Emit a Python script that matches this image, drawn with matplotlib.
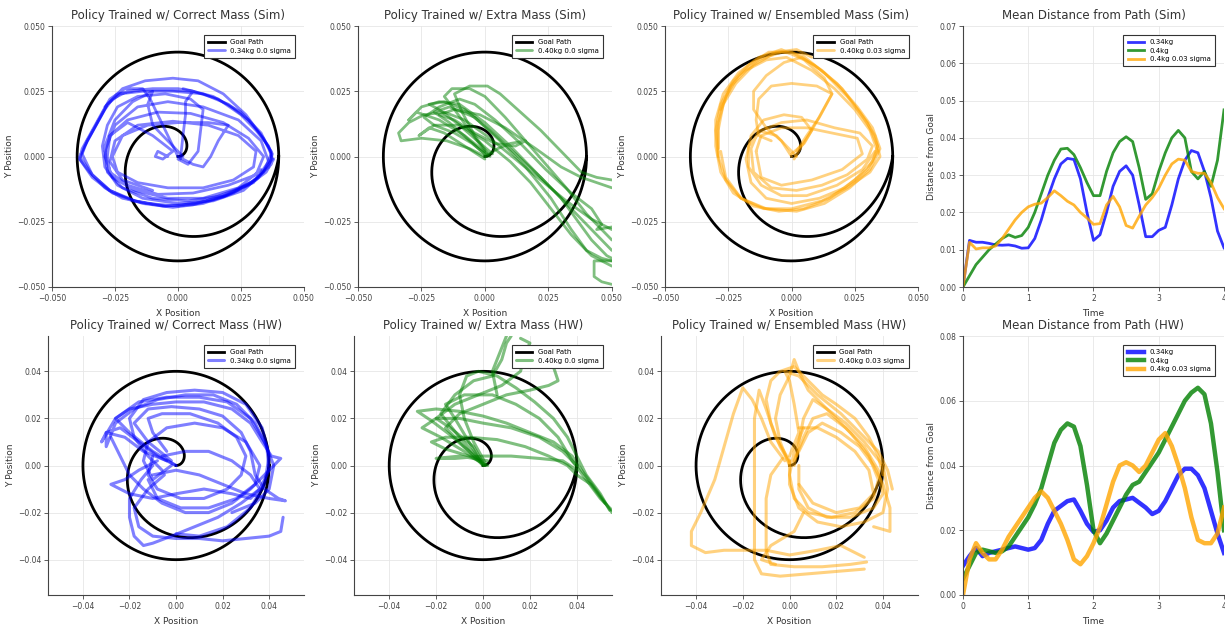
import numpy as np
import matplotlib
matplotlib.use("Agg")
import matplotlib.pyplot as plt

BLUE = "#0000ff"
GREEN = "#008000"
ORANGE = "#ffa500"

# goal path: archimedean spiral from the centre, then the outer circle
GOAL_RADIUS = 0.04

# ---- mean distance from path, sampled every 0.1 s ----
TIME = np.round(np.arange(41) * 0.1, 1)

SIM_034 = [0.000, 0.0125, 0.0120, 0.0120, 0.0117, 0.0113, 0.0112, 0.0113, 0.0110, 0.0104,
           0.0105, 0.0130, 0.0180, 0.0240, 0.0290, 0.0330, 0.0345, 0.0342, 0.0290, 0.0200,
           0.0125, 0.0140, 0.0200, 0.0270, 0.0310, 0.0325, 0.0300, 0.0220, 0.0135, 0.0135,
           0.0152, 0.0160, 0.0220, 0.0290, 0.0340, 0.0366, 0.0360, 0.0310, 0.0240, 0.0150,
           0.0105]
SIM_040 = [0.000, 0.0030, 0.0060, 0.0080, 0.0100, 0.0115, 0.0130, 0.0140, 0.0133, 0.0138,
           0.0160, 0.0200, 0.0250, 0.0300, 0.0340, 0.0370, 0.0372, 0.0355, 0.0320, 0.0280,
           0.0245, 0.0245, 0.0310, 0.0360, 0.0390, 0.0403, 0.0390, 0.0320, 0.0235, 0.0250,
           0.0310, 0.0360, 0.0400, 0.0420, 0.0400, 0.0310, 0.0290, 0.0310, 0.0270, 0.0340,
           0.0475]
SIM_040_ENS = [0.000, 0.0120, 0.0102, 0.0105, 0.0105, 0.0110, 0.0130, 0.0155, 0.0180, 0.0200,
               0.0215, 0.0222, 0.0225, 0.0240, 0.0258, 0.0245, 0.0230, 0.0220, 0.0200, 0.0185,
               0.0168, 0.0170, 0.0220, 0.0243, 0.0215, 0.0165, 0.0158, 0.0190, 0.0220, 0.0240,
               0.0265, 0.0300, 0.0330, 0.0343, 0.0340, 0.0310, 0.0305, 0.0305, 0.0280, 0.0240,
               0.0210]

HW_034 = [0.009, 0.012, 0.0145, 0.012, 0.013, 0.0135, 0.014, 0.0145, 0.015, 0.0145,
          0.014, 0.0145, 0.017, 0.022, 0.026, 0.0275, 0.029, 0.0295, 0.026, 0.022,
          0.0195, 0.020, 0.023, 0.027, 0.029, 0.0295, 0.030, 0.0285, 0.027, 0.025,
          0.026, 0.029, 0.033, 0.037, 0.039, 0.039, 0.037, 0.033, 0.026, 0.019,
          0.013]
HW_040 = [0.005, 0.009, 0.013, 0.014, 0.0135, 0.013, 0.0135, 0.015, 0.018, 0.021,
          0.024, 0.028, 0.033, 0.040, 0.047, 0.051, 0.053, 0.052, 0.046, 0.034,
          0.020, 0.016, 0.019, 0.023, 0.027, 0.031, 0.034, 0.035, 0.038, 0.041,
          0.044, 0.048, 0.052, 0.056, 0.060, 0.0625, 0.064, 0.062, 0.053, 0.038,
          0.020]
HW_040_ENS = [0.000, 0.011, 0.016, 0.013, 0.011, 0.011, 0.014, 0.018, 0.021, 0.024,
              0.027, 0.030, 0.032, 0.030, 0.026, 0.022, 0.017, 0.011, 0.0095, 0.012,
              0.016, 0.021, 0.028, 0.035, 0.040, 0.041, 0.040, 0.038, 0.040, 0.044,
              0.048, 0.050, 0.046, 0.040, 0.033, 0.024, 0.017, 0.016, 0.016, 0.019,
              0.027]

# ---- trajectories (x, y) in metres, one list per episode ----
SIM_CORRECT = [
    [(0.000, 0.000), (-0.003, 0.006), (-0.007, 0.014), (-0.011, 0.022), (-0.014, 0.026),
     (-0.021, 0.026), (-0.027, 0.022), (-0.030, 0.017), (-0.034, 0.010), (-0.038, 0.003),
     (-0.039, -0.001), (-0.035, -0.006), (-0.029, -0.012), (-0.022, -0.016), (-0.012, -0.018),
     (0.000, -0.019), (0.011, -0.017), (0.022, -0.013), (0.031, -0.009), (0.037, -0.003),
     (0.037, 0.002), (0.033, 0.008), (0.027, 0.016), (0.018, 0.024), (0.008, 0.029),
     (-0.002, 0.030), (-0.013, 0.029), (-0.022, 0.026), (-0.028, 0.020), (-0.032, 0.013),
     (-0.036, 0.006), (-0.039, 0.000), (-0.034, -0.007), (-0.027, -0.013), (-0.018, -0.017),
     (-0.006, -0.019), (0.006, -0.0185), (0.018, -0.0155), (0.028, -0.011), (0.035, -0.006),
     (0.038, -0.001)],
    [(0.001, -0.001), (0.002, 0.008), (0.003, 0.016), (0.003, 0.021), (0.006, 0.025),
     (0.000, 0.026), (-0.010, 0.026), (-0.020, 0.025), (-0.026, 0.022), (-0.029, 0.018),
     (-0.033, 0.011), (-0.037, 0.004), (-0.039, -0.001), (-0.034, -0.008), (-0.026, -0.014),
     (-0.014, -0.018), (-0.002, -0.0195), (0.010, -0.018), (0.022, -0.014), (0.032, -0.008),
     (0.0375, -0.001), (0.036, 0.004), (0.031, 0.010), (0.025, 0.016), (0.016, 0.022),
     (0.006, 0.025), (-0.004, 0.0255), (-0.015, 0.0255), (-0.024, 0.024), (-0.029, 0.019)],
    [(-0.004, 0.000), (-0.008, 0.002), (-0.009, 0.000), (-0.006, -0.001), (-0.002, 0.002),
     (-0.010, 0.008), (-0.020, 0.013), (-0.027, 0.008), (-0.028, 0.000), (-0.027, -0.006),
     (-0.020, -0.011), (-0.008, -0.0145), (0.006, -0.014), (0.020, -0.011), (0.031, -0.007),
     (0.034, 0.000), (0.028, 0.007), (0.018, 0.013), (0.005, 0.0165), (-0.008, 0.017),
     (-0.020, 0.014), (-0.027, 0.008), (-0.029, 0.000), (-0.026, -0.008), (-0.017, -0.013),
     (-0.004, -0.016), (0.010, -0.016), (0.024, -0.012), (0.033, -0.005)],
    [(0.000, 0.000), (0.006, -0.003), (0.010, -0.004), (0.013, 0.000), (0.016, 0.006),
     (0.020, 0.012), (0.012, 0.013), (0.000, 0.013), (-0.012, 0.012), (-0.022, 0.008),
     (-0.026, 0.000), (-0.024, -0.006), (-0.016, -0.010), (-0.004, -0.012), (0.010, -0.012),
     (0.022, -0.009), (0.030, -0.004), (0.031, 0.002), (0.024, 0.008), (0.012, 0.012),
     (-0.002, 0.0135), (-0.016, 0.012), (-0.025, 0.006), (-0.027, -0.002), (-0.022, -0.009),
     (-0.010, -0.013)],
    [(0.002, 0.000), (-0.004, 0.006), (-0.010, 0.012), (-0.012, 0.020), (-0.010, 0.025),
     (-0.018, 0.021), (-0.025, 0.014), (-0.029, 0.004), (-0.028, -0.006), (-0.022, -0.012),
     (-0.010, -0.016), (0.004, -0.017), (0.018, -0.015), (0.030, -0.010), (0.036, -0.002),
     (0.033, 0.006), (0.024, 0.014), (0.010, 0.019), (-0.004, 0.021), (-0.016, 0.019),
     (-0.025, 0.012), (-0.029, 0.002)],
    [(0.000, -0.001), (0.004, -0.003), (0.008, 0.002), (0.009, 0.010), (0.010, 0.018),
     (0.005, 0.022), (-0.005, 0.024), (-0.016, 0.023), (-0.024, 0.019), (-0.028, 0.012),
     (-0.030, 0.004), (-0.029, -0.004), (-0.024, -0.011), (-0.014, -0.016), (0.000, -0.018),
     (0.014, -0.017), (0.026, -0.013), (0.034, -0.006), (0.037, 0.001), (0.033, 0.009),
     (0.025, 0.017), (0.014, 0.023), (0.002, 0.026)],
    [(-0.038, 0.001), (-0.034, -0.007), (-0.027, -0.013), (-0.017, -0.017), (-0.005, -0.019),
     (0.007, -0.018), (0.019, -0.015), (0.029, -0.010), (0.036, -0.004), (0.0375, 0.001),
     (0.034, 0.007), (0.028, 0.014), (0.020, 0.020), (0.010, 0.024), (-0.002, 0.025),
     (-0.014, 0.025), (-0.023, 0.024), (-0.028, 0.020), (-0.032, 0.013), (-0.036, 0.006),
     (-0.038, 0.001)],
]

SIM_EXTRA = [
    [(0.000, 0.000), (-0.006, 0.003), (-0.015, 0.006), (-0.025, 0.007), (-0.033, 0.006),
     (-0.034, 0.009), (-0.030, 0.013), (-0.024, 0.016), (-0.016, 0.017), (-0.008, 0.014),
     (0.002, 0.007), (0.012, -0.001), (0.022, -0.009), (0.032, -0.017), (0.042, -0.024),
     (0.050, -0.028)],
    [(0.001, 0.001), (-0.008, 0.008), (-0.018, 0.014), (-0.027, 0.017), (-0.030, 0.014),
     (-0.025, 0.019), (-0.018, 0.021), (-0.010, 0.020), (0.000, 0.013), (0.010, 0.004),
     (0.020, -0.006), (0.030, -0.016), (0.040, -0.026), (0.050, -0.036)],
    [(0.000, 0.002), (-0.006, 0.010), (-0.012, 0.018), (-0.016, 0.023), (-0.013, 0.026),
     (-0.006, 0.026), (0.000, 0.023), (0.008, 0.015), (0.016, 0.006), (0.024, -0.003),
     (0.032, -0.012), (0.040, -0.022), (0.048, -0.030), (0.050, -0.032)],
    [(0.002, 0.000), (-0.004, 0.008), (-0.009, 0.017), (-0.012, 0.024), (-0.006, 0.027),
     (0.001, 0.027), (0.006, 0.024), (0.014, 0.017), (0.022, 0.010), (0.030, 0.002),
     (0.038, -0.006), (0.044, -0.008), (0.050, -0.009)],
    [(0.003, 0.001), (-0.003, 0.006), (-0.010, 0.012), (-0.018, 0.018), (-0.022, 0.020),
     (-0.016, 0.021), (-0.008, 0.018), (0.002, 0.010), (0.012, 0.001), (0.022, -0.008),
     (0.030, -0.016), (0.036, -0.024), (0.042, -0.032), (0.048, -0.038), (0.050, -0.039)],
    [(0.000, -0.001), (-0.008, 0.004), (-0.016, 0.009), (-0.022, 0.011), (-0.026, 0.008),
     (-0.020, 0.012), (-0.010, 0.012), (0.000, 0.006), (0.010, -0.002), (0.018, -0.010),
     (0.026, -0.020), (0.034, -0.030), (0.042, -0.038), (0.048, -0.041), (0.050, -0.042)],
    [(0.001, 0.000), (-0.006, 0.006), (-0.014, 0.013), (-0.020, 0.017), (-0.014, 0.019),
     (-0.004, 0.015), (0.006, 0.006), (0.016, -0.004), (0.026, -0.016), (0.034, -0.028),
     (0.040, -0.036), (0.046, -0.039), (0.050, -0.040)],
    [(0.050, -0.040), (0.043, -0.040), (0.043, -0.046), (0.046, -0.048), (0.050, -0.049)],
    [(0.000, 0.000), (0.005, 0.003), (0.010, 0.005), (0.016, 0.006), (0.012, 0.004),
     (0.004, 0.005), (-0.004, 0.009), (-0.012, 0.014), (-0.018, 0.016), (-0.012, 0.018),
     (-0.002, 0.016), (0.008, 0.011), (0.020, 0.003), (0.030, -0.004), (0.038, -0.008),
     (0.050, -0.012)],
    [(0.000, 0.001), (-0.005, 0.005), (-0.012, 0.009), (-0.020, 0.012), (-0.024, 0.015),
     (-0.018, 0.019), (-0.010, 0.022), (-0.004, 0.020), (0.004, 0.014), (0.014, 0.005),
     (0.024, -0.005), (0.034, -0.014), (0.042, -0.020), (0.046, -0.026), (0.044, -0.028),
     (0.050, -0.027)],
]

SIM_ENSEMBLE = [
    [(0.001, -0.001), (0.004, 0.004), (0.008, 0.010), (0.012, 0.017), (0.016, 0.024),
     (0.013, 0.030), (0.005, 0.037), (-0.004, 0.041), (-0.013, 0.038), (-0.021, 0.032),
     (-0.027, 0.024), (-0.030, 0.014), (-0.030, 0.004), (-0.028, -0.006), (-0.023, -0.014),
     (-0.015, -0.019), (-0.005, -0.021), (0.005, -0.020), (0.015, -0.016), (0.025, -0.009),
     (0.032, -0.002), (0.034, 0.004), (0.030, 0.013), (0.022, 0.023), (0.013, 0.032),
     (0.004, 0.039), (-0.004, 0.040), (-0.013, 0.037), (-0.021, 0.031), (-0.026, 0.023),
     (-0.029, 0.013), (-0.029, 0.003)],
    [(0.000, 0.000), (-0.004, 0.006), (-0.010, 0.011), (-0.015, 0.018), (-0.015, 0.025),
     (-0.010, 0.031), (-0.003, 0.036), (0.004, 0.038), (0.012, 0.033), (0.020, 0.026),
     (0.027, 0.017), (0.033, 0.008), (0.035, 0.000), (0.031, -0.006), (0.022, -0.012),
     (0.012, -0.017), (0.000, -0.020), (-0.011, -0.020), (-0.020, -0.016), (-0.026, -0.009),
     (-0.029, 0.000), (-0.029, 0.010), (-0.027, 0.020), (-0.022, 0.028), (-0.015, 0.035),
     (-0.006, 0.040), (0.002, 0.041), (0.008, 0.038)],
    [(0.002, 0.000), (-0.006, 0.008), (-0.013, 0.010), (-0.016, 0.003), (-0.015, -0.006),
     (-0.008, -0.012), (0.002, -0.013), (0.012, -0.011), (0.022, -0.007), (0.030, -0.001),
     (0.032, 0.004), (0.027, 0.009), (0.017, 0.011), (0.006, 0.014), (-0.004, 0.013),
     (-0.012, 0.010), (-0.017, 0.004), (-0.017, -0.004), (-0.012, -0.011), (-0.004, -0.015),
     (0.006, -0.015), (0.018, -0.011), (0.028, -0.005), (0.033, 0.002)],
    [(0.000, 0.001), (0.005, 0.005), (0.008, 0.010), (0.004, 0.015), (-0.003, 0.016),
     (-0.011, 0.014), (-0.016, 0.008), (-0.018, -0.001), (-0.016, -0.010), (-0.010, -0.016),
     (0.000, -0.018), (0.011, -0.016), (0.021, -0.012), (0.030, -0.005), (0.034, 0.002),
     (0.031, 0.010), (0.025, 0.018), (0.017, 0.026), (0.008, 0.033), (-0.002, 0.038),
     (-0.010, 0.037), (-0.018, 0.033), (-0.024, 0.027), (-0.028, 0.018)],
    [(0.002, 0.002), (0.006, 0.008), (0.011, 0.015), (0.016, 0.024), (0.010, 0.027),
     (0.000, 0.028), (-0.008, 0.027), (-0.013, 0.022), (-0.014, 0.014), (-0.013, 0.008),
     (-0.008, 0.006)],
    [(-0.028, 0.002), (-0.026, -0.008), (-0.020, -0.016), (-0.010, -0.020), (0.002, -0.021),
     (0.013, -0.018), (0.023, -0.012), (0.031, -0.005), (0.035, 0.003), (0.032, 0.011),
     (0.026, 0.019), (0.018, 0.028), (0.009, 0.035), (0.000, 0.040), (-0.009, 0.040),
     (-0.017, 0.035), (-0.023, 0.029), (-0.028, 0.020), (-0.030, 0.010), (-0.029, 0.000)],
    [(-0.014, 0.002), (-0.012, -0.008), (-0.004, -0.011), (0.008, -0.009), (0.020, -0.005),
     (0.028, 0.001), (0.026, 0.007), (0.016, 0.009), (0.006, 0.011), (-0.004, 0.011),
     (-0.012, 0.008), (-0.014, 0.002)],
]

HW_CORRECT = [
    [(0.000, 0.000), (-0.008, 0.004), (-0.016, 0.010), (-0.024, 0.016), (-0.030, 0.014),
     (-0.030, 0.008), (-0.026, 0.018), (-0.018, 0.024), (-0.008, 0.028), (0.004, 0.030),
     (0.016, 0.030), (0.026, 0.026), (0.034, 0.018), (0.039, 0.008), (0.040, -0.002),
     (0.036, -0.010), (0.028, -0.016), (0.018, -0.022), (0.008, -0.026), (-0.002, -0.030),
     (-0.010, -0.033), (-0.014, -0.034), (-0.018, -0.030), (-0.020, -0.022), (-0.020, -0.014),
     (-0.015, -0.006), (-0.010, 0.000)],
    [(0.000, 0.000), (-0.010, 0.006), (-0.020, 0.014), (-0.026, 0.020), (-0.020, 0.024),
     (-0.010, 0.026), (0.000, 0.027), (0.012, 0.027), (0.024, 0.024), (0.032, 0.018),
     (0.037, 0.010), (0.041, 0.004), (0.045, 0.003), (0.038, -0.004), (0.032, -0.010),
     (0.024, -0.016), (0.014, -0.020), (0.004, -0.020), (-0.006, -0.016), (-0.014, -0.010),
     (-0.020, -0.004), (-0.024, 0.004), (-0.028, 0.012)],
    [(-0.002, 0.002), (-0.012, 0.010), (-0.018, 0.018), (-0.012, 0.024), (-0.002, 0.025),
     (0.010, 0.024), (0.020, 0.021), (0.028, 0.014), (0.032, 0.006), (0.034, -0.004),
     (0.038, -0.010), (0.044, -0.014), (0.047, -0.015), (0.040, -0.014), (0.030, -0.012),
     (0.020, -0.008), (0.010, -0.004), (0.000, -0.002), (-0.010, -0.004)],
    [(-0.005, -0.004), (-0.012, -0.010), (-0.018, -0.018), (-0.016, -0.026), (-0.010, -0.030),
     (0.000, -0.031), (0.010, -0.031), (0.020, -0.032), (0.030, -0.031), (0.040, -0.030),
     (0.045, -0.028), (0.046, -0.022)],
    [(-0.008, 0.002), (-0.016, -0.002), (-0.022, -0.006), (-0.028, -0.008), (-0.020, -0.012),
     (-0.010, -0.014), (0.000, -0.012), (0.012, -0.010), (0.024, -0.012), (0.032, -0.014),
     (0.036, -0.010), (0.032, -0.004), (0.024, 0.002), (0.014, 0.006), (0.004, 0.006),
     (-0.006, 0.004)],
    [(-0.004, 0.006), (-0.010, 0.014), (-0.012, 0.020), (-0.006, 0.022), (0.006, 0.022),
     (0.018, 0.018), (0.026, 0.012), (0.030, 0.004), (0.028, -0.004), (0.022, -0.010),
     (0.012, -0.014), (0.002, -0.014), (-0.008, -0.010), (-0.012, -0.004), (-0.010, 0.004)],
    [(-0.006, -0.002), (-0.012, 0.004), (-0.018, 0.012), (-0.020, 0.020), (-0.014, 0.028),
     (-0.004, 0.031), (0.008, 0.032), (0.020, 0.031), (0.030, 0.026), (0.037, 0.016),
     (0.040, 0.004), (0.038, -0.008), (0.032, -0.018), (0.022, -0.026), (0.010, -0.030),
     (0.000, -0.029)],
    [(-0.002, 0.000), (-0.010, -0.006), (-0.014, 0.002), (-0.012, 0.010), (-0.004, 0.016),
     (0.008, 0.018), (0.020, 0.016), (0.030, 0.010), (0.036, 0.000), (0.034, -0.008),
     (0.026, -0.014), (0.014, -0.018), (0.002, -0.018), (-0.008, -0.014), (-0.012, -0.006)],
    [(-0.004, 0.002), (-0.014, 0.006), (-0.022, 0.012), (-0.030, 0.014), (-0.032, 0.010),
     (-0.026, 0.020), (-0.016, 0.027), (-0.004, 0.029), (0.010, 0.029), (0.022, 0.027),
     (0.032, 0.020), (0.038, 0.010), (0.042, 0.000), (0.040, -0.010), (0.034, -0.016),
     (0.024, -0.020)],
]

HW_EXTRA = [
    [(0.000, 0.000), (-0.006, 0.006), (-0.014, 0.013), (-0.022, 0.019), (-0.028, 0.023),
     (-0.020, 0.024), (-0.010, 0.023), (0.000, 0.021), (0.010, 0.018), (0.020, 0.014),
     (0.030, 0.010), (0.038, 0.004), (0.042, -0.002), (0.048, -0.010), (0.055, -0.020)],
    [(0.001, 0.001), (-0.004, 0.010), (-0.008, 0.020), (-0.010, 0.030), (-0.007, 0.038),
     (-0.002, 0.040), (0.006, 0.038), (0.014, 0.033), (0.022, 0.027), (0.030, 0.020),
     (0.036, 0.012), (0.040, 0.004), (0.044, -0.004), (0.050, -0.012), (0.054, -0.019)],
    [(0.002, 0.000), (-0.006, 0.004), (-0.016, 0.007), (-0.022, 0.010), (-0.016, 0.012),
     (-0.006, 0.012), (0.006, 0.011), (0.018, 0.008), (0.028, 0.004), (0.036, 0.000),
     (0.040, -0.004), (0.046, -0.008), (0.052, -0.016)],
    [(-0.001, 0.002), (-0.010, 0.012), (-0.018, 0.022), (-0.012, 0.030), (-0.004, 0.036),
     (0.004, 0.038), (0.008, 0.045), (0.010, 0.052), (0.012, 0.055)],
    [(0.000, 0.001), (-0.004, 0.008), (-0.014, 0.016), (-0.020, 0.020), (-0.012, 0.026),
     (-0.002, 0.030), (0.008, 0.034), (0.016, 0.040), (0.018, 0.048), (0.020, 0.052),
     (0.016, 0.054)],
    [(0.001, 0.000), (-0.008, 0.008), (-0.016, 0.016), (-0.010, 0.022), (0.000, 0.026),
     (0.010, 0.030), (0.020, 0.032), (0.028, 0.034), (0.032, 0.036), (0.030, 0.042),
     (0.034, 0.046)],
    [(0.002, 0.002), (-0.010, 0.004), (-0.020, 0.003), (-0.012, 0.003), (0.000, 0.004),
     (0.012, 0.004), (0.024, 0.003), (0.034, 0.002), (0.040, -0.002)],
    [(0.000, 0.000), (-0.006, 0.010), (-0.012, 0.020), (-0.016, 0.026), (-0.008, 0.030),
     (0.004, 0.030), (0.014, 0.026), (0.024, 0.020), (0.032, 0.012), (0.038, 0.002),
     (0.044, -0.006), (0.050, -0.014), (0.055, -0.019)],
    [(0.001, 0.000), (-0.008, 0.006), (-0.018, 0.012), (-0.026, 0.016), (-0.020, 0.020),
     (-0.010, 0.020), (0.000, 0.018), (0.012, 0.016), (0.024, 0.012), (0.034, 0.006),
     (0.040, 0.000)],
    [(0.006, 0.030), (0.004, 0.040), (0.008, 0.050), (0.010, 0.055)],
]

HW_ENSEMBLE = [
    [(0.000, 0.000), (-0.004, 0.010), (-0.006, 0.020), (-0.004, 0.030), (0.000, 0.038),
     (0.002, 0.045), (0.004, 0.040), (0.008, 0.032), (0.016, 0.024), (0.026, 0.014),
     (0.034, 0.004), (0.038, -0.006), (0.036, -0.014), (0.028, -0.020), (0.018, -0.022),
     (0.008, -0.020), (0.002, -0.014), (0.000, -0.004), (0.002, 0.006), (0.006, 0.016)],
    [(-0.002, 0.002), (-0.008, 0.010), (-0.012, 0.020), (-0.016, 0.028), (-0.020, 0.033),
     (-0.024, 0.022), (-0.028, 0.008), (-0.032, -0.006), (-0.038, -0.020), (-0.042, -0.028),
     (-0.042, -0.034), (-0.036, -0.037), (-0.028, -0.036), (-0.020, -0.036), (-0.010, -0.036),
     (0.000, -0.038), (0.012, -0.036), (0.022, -0.034), (0.030, -0.038), (0.032, -0.039)],
    [(0.000, 0.002), (-0.006, 0.012), (-0.010, 0.024), (-0.013, 0.032), (-0.015, 0.020),
     (-0.015, 0.004), (-0.015, -0.012), (-0.015, -0.028), (-0.015, -0.040), (-0.012, -0.046),
     (-0.004, -0.047), (0.008, -0.046), (0.020, -0.045), (0.032, -0.044)],
    [(0.002, 0.000), (0.004, 0.010), (0.006, 0.020), (0.010, 0.028), (0.016, 0.024),
     (0.024, 0.018), (0.032, 0.010), (0.040, 0.000), (0.042, -0.010), (0.040, -0.020),
     (0.032, -0.024), (0.022, -0.026), (0.012, -0.024), (0.004, -0.018), (0.000, -0.008),
     (0.000, 0.002)],
    [(0.003, 0.004), (0.008, 0.014), (0.014, 0.018), (0.022, 0.014), (0.030, 0.008),
     (0.036, 0.000), (0.040, -0.008), (0.043, -0.018), (0.043, -0.028), (0.036, -0.026)],
    [(0.000, 0.001), (-0.004, 0.008), (-0.008, 0.018), (-0.010, 0.028), (-0.008, 0.036),
     (-0.004, 0.040), (0.002, 0.042), (0.008, 0.036), (0.014, 0.030), (0.020, 0.026),
     (0.028, 0.020), (0.034, 0.012), (0.038, 0.004), (0.040, -0.004)],
    [(-0.003, 0.003), (-0.008, -0.004), (-0.010, -0.014), (-0.010, -0.026), (-0.010, -0.036),
     (-0.008, -0.042), (0.002, -0.043), (0.014, -0.043), (0.026, -0.042), (0.033, -0.041)],
    [(0.004, 0.016), (0.012, 0.016), (0.020, 0.012), (0.028, 0.006), (0.034, -0.002),
     (0.036, -0.012), (0.030, -0.018), (0.020, -0.020), (0.010, -0.016), (0.004, -0.008)],
    [(0.006, -0.020), (0.002, -0.028), (-0.008, -0.034), (-0.012, -0.040), (-0.006, -0.042)],
    [(0.002, 0.002), (0.006, 0.012), (0.010, 0.020), (0.016, 0.022), (0.024, 0.016),
     (0.032, 0.008), (0.038, -0.002), (0.040, -0.012), (0.036, -0.018), (0.026, -0.022),
     (0.016, -0.022), (0.008, -0.018), (0.004, -0.010), (0.004, 0.000)],
    [(0.000, 0.004), (0.004, 0.014), (0.002, 0.026), (0.000, 0.036), (-0.002, 0.040),
     (0.004, 0.038), (0.012, 0.030), (0.022, 0.022), (0.030, 0.014), (0.038, 0.006),
     (0.042, -0.002), (0.044, -0.010)],
]

plt.rcParams.update({"font.family": "DejaVu Sans", "axes.unicode_minus": True})

fig = plt.figure(figsize=(12.25, 6.25), dpi=100)


def style_axes(ax):
    """left/bottom frame only, light grid"""
    for side in ("top", "right"):
        ax.spines[side].set_visible(False)
    for side in ("left", "bottom"):
        ax.spines[side].set_color("#444444")
        ax.spines[side].set_linewidth(0.8)
    ax.grid(True, color="#e6e6e6", linewidth=0.6)
    ax.set_axisbelow(True)
    ax.tick_params(labelsize=5.5, colors="#444444", length=3, width=0.6, pad=2)


def fmt(values, digits):
    return [f"{v:.{digits}f}".replace("-", "\u2212") for v in values]


def draw_goal(ax):
    theta = np.linspace(0, 2 * np.pi, 300)
    r = GOAL_RADIUS * theta / (2 * np.pi)
    xs = np.concatenate([r * np.cos(theta), GOAL_RADIUS * np.cos(theta)])
    ys = np.concatenate([r * np.sin(theta), GOAL_RADIUS * np.sin(theta)])
    ax.plot(xs, ys, color="black", lw=2.0, label="Goal Path")


def draw_trajectories(ax, episodes, color, label, lw):
    for k, ep in enumerate(episodes):
        xs, ys = zip(*ep)
        ax.plot(xs, ys, color=color, alpha=0.5, lw=lw,
                solid_joinstyle="round", solid_capstyle="round",
                label=label if k == 0 else None)


def add_legend(ax):
    leg = ax.legend(loc="upper right", bbox_to_anchor=(0.965, 0.965), borderaxespad=0,
                    fontsize=5, handlelength=2.4, fancybox=False, framealpha=1,
                    edgecolor="#333333", borderpad=0.6, labelspacing=0.35)
    leg.get_frame().set_linewidth(0.8)


def label_axes(ax, title, xlabel, ylabel):
    ax.set_title(title, fontsize=8.5, color="#333333", pad=5)
    ax.set_xlabel(xlabel, fontsize=6.5, color="#333333", labelpad=4)
    ax.set_ylabel(ylabel, fontsize=6.5, color="#333333", labelpad=2)


TOP_Y, TOP_H = 0.5408, 0.4176
BOT_Y, BOT_H = 0.048, 0.4144

traj_panels = [
    ([0.0424, TOP_Y, 0.2057, TOP_H], SIM_CORRECT, BLUE, "0.34kg 0.0 sigma",
     "Policy Trained w/ Correct Mass (Sim)", True),
    ([0.2922, TOP_Y, 0.2073, TOP_H], SIM_EXTRA, GREEN, "0.40kg 0.0 sigma",
     "Policy Trained w/ Extra Mass (Sim)", True),
    ([0.5429, TOP_Y, 0.2065, TOP_H], SIM_ENSEMBLE, ORANGE, "0.40kg 0.03 sigma",
     "Policy Trained w/ Ensembled Mass (Sim)", True),
    ([0.0392, BOT_Y, 0.2090, BOT_H], HW_CORRECT, BLUE, "0.34kg 0.0 sigma",
     "Policy Trained w/ Correct Mass (HW)", False),
    ([0.2890, BOT_Y, 0.2106, BOT_H], HW_EXTRA, GREEN, "0.40kg 0.0 sigma",
     "Policy Trained w/ Extra Mass (HW)", False),
    ([0.5396, BOT_Y, 0.2098, BOT_H], HW_ENSEMBLE, ORANGE, "0.40kg 0.03 sigma",
     "Policy Trained w/ Ensembled Mass (HW)", False),
]

for rect, episodes, color, label, title, is_sim in traj_panels:
    ax = fig.add_axes(rect)
    style_axes(ax)
    draw_goal(ax)
    draw_trajectories(ax, episodes, color, label, 2.0 if is_sim else 2.2)
    if is_sim:
        ticks = [-0.05, -0.025, 0.0, 0.025, 0.05]
        ax.set_xlim(-0.05, 0.05)
        ax.set_ylim(-0.05, 0.05)
        ax.set_xticks(ticks, fmt(ticks, 3))
        ax.set_yticks(ticks, fmt(ticks, 3))
    else:
        ticks = [-0.04, -0.02, 0.0, 0.02, 0.04]
        ax.set_xlim(-0.055, 0.055)
        ax.set_ylim(-0.055, 0.055)
        ax.set_xticks(ticks, fmt(ticks, 2))
        ax.set_yticks(ticks, fmt(ticks, 2))
    label_axes(ax, title, "X Position", "Y Position")
    add_legend(ax)

ts_panels = [
    ([0.7861, TOP_Y, 0.2131, TOP_H], (SIM_034, SIM_040, SIM_040_ENS), 0.07, 0.01,
     "Mean Distance from Path (Sim)", 2.0),
    ([0.7861, BOT_Y, 0.2131, BOT_H], (HW_034, HW_040, HW_040_ENS), 0.08, 0.02,
     "Mean Distance from Path (HW)", 3.2),
]
ts_labels = ["0.34kg", "0.4kg", "0.4kg 0.03 sigma"]
ts_colors = [BLUE, GREEN, ORANGE]

for rect, series, ymax, ystep, title, lw in ts_panels:
    ax = fig.add_axes(rect)
    style_axes(ax)
    for values, color, label in zip(series, ts_colors, ts_labels):
        ax.plot(TIME, values, color=color, lw=lw, alpha=0.8, label=label)
    ax.set_xlim(0, 4)
    ax.set_ylim(0, ymax)
    ax.set_xticks([0, 1, 2, 3, 4])
    yt = np.round(np.arange(0, ymax + 1e-9, ystep), 2)
    ax.set_yticks(yt, fmt(yt, 2))
    label_axes(ax, title, "Time", "Distance from Goal")
    add_legend(ax)

fig.savefig("out.png", dpi=100)
